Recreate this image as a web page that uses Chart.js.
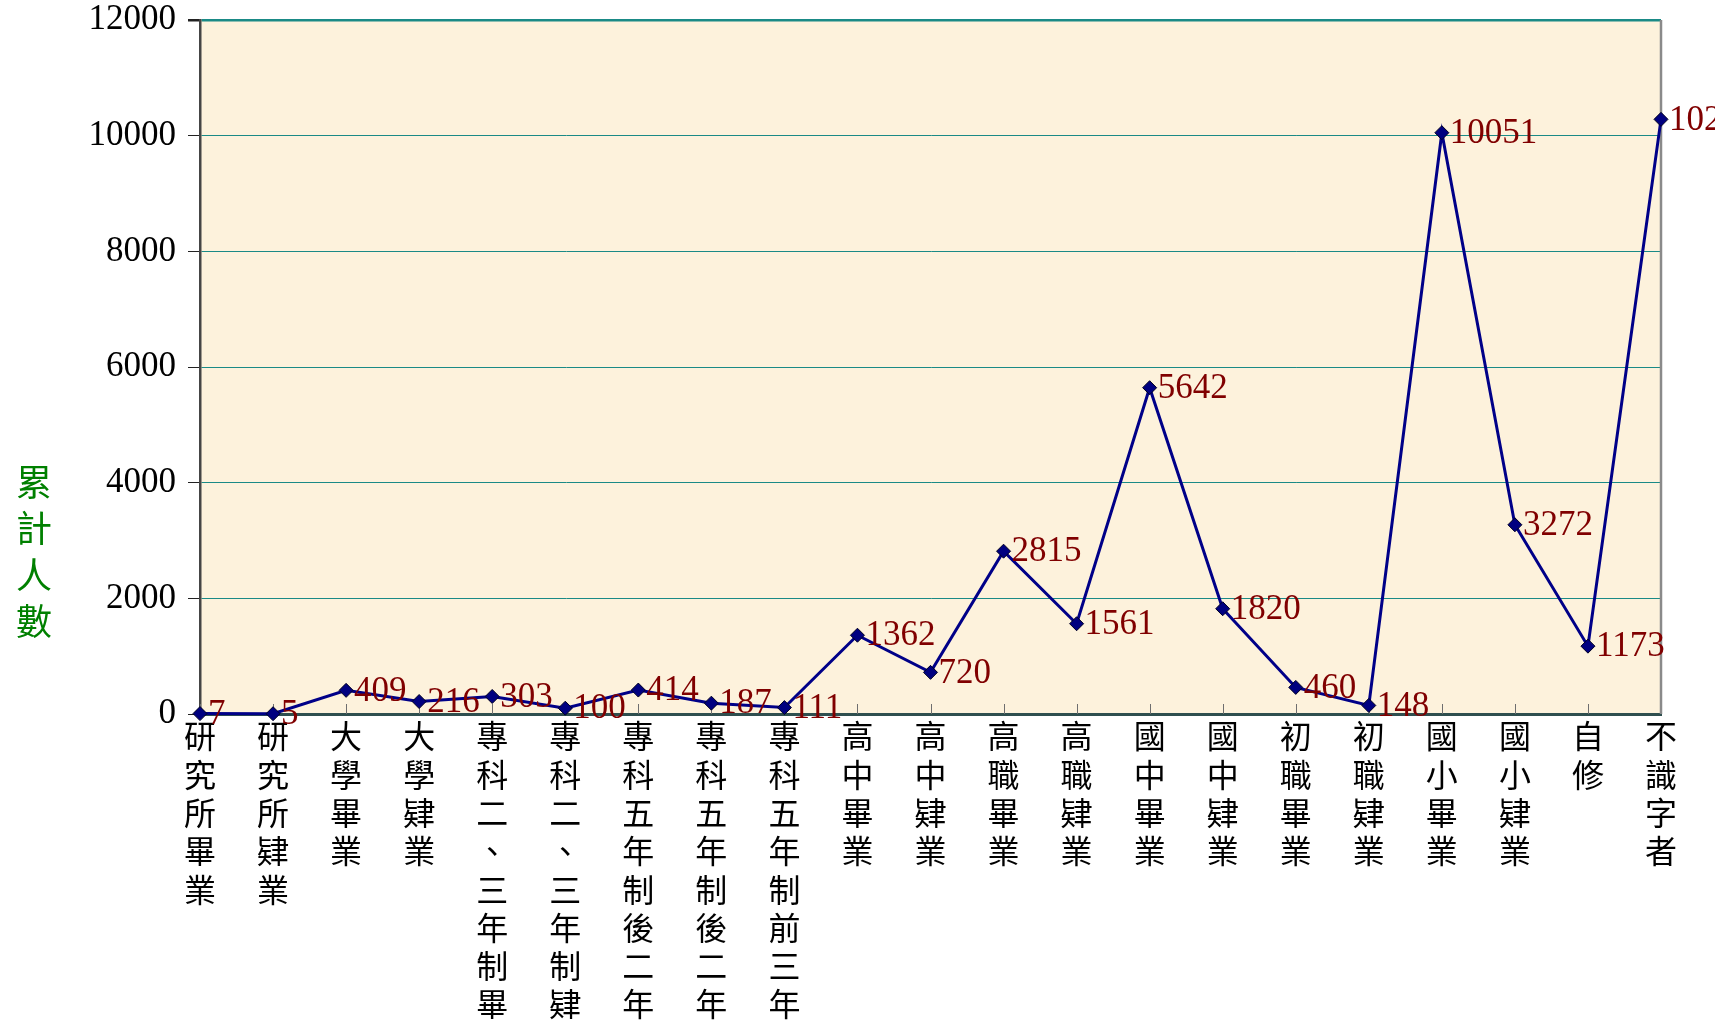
<!DOCTYPE html>
<html>
<head>
<meta charset="utf-8">
<script src="https://cdn.jsdelivr.net/npm/chart.js@4.4.1/dist/chart.umd.min.js"></script>
<style>
  html, body { margin: 0; padding: 0; background: #fff; }
  #wrap { width: 1729px; height: 1026px; position: relative; }
</style>
</head>
<body>
<div id="wrap"><canvas id="c"></canvas></div>
<script>
/* ═══ DATA ═══════════════════════════════════════════ */
const categories = [
  '研究所畢業','研究所肄業','大學畢業','大學肄業',
  '專科二、三年制畢','專科二、三年制肄',
  '專科五年制後二年','專科五年制後二年','專科五年制前三年',
  '高中畢業','高中肄業','高職畢業','高職肄業',
  '國中畢業','國中肄業','初職畢業','初職肄業',
  '國小畢業','國小肄業','自修','不識字者'
];
const counts = [7, 5, 409, 216, 303, 100, 414, 187, 111, 1362, 720,
                2815, 1561, 5642, 1820, 460, 148, 10051, 3272, 1173, 10282];
const yMin = 0, yMax = 12000, yStep = 2000;
const yTitle = '累計人數';

const SERIF = "'Liberation Serif', 'DejaVu Serif', serif";
const CJK = "'Noto Sans CJK TC', 'Noto Sans CJK SC', sans-serif";

/* ═══ PLUGINS ════════════════════════════════════════ */
// plot area fill + right frame + inward x tick marks
const frame = {
  id: 'frame',
  beforeDraw(chart) {
    const {ctx, chartArea: a} = chart;
    ctx.save();
    ctx.fillStyle = '#fdf2dc';
    ctx.fillRect(a.left, a.top, a.right - a.left, a.bottom - a.top);
    ctx.restore();
  },
  beforeDatasetsDraw(chart) {
    const {ctx, chartArea: a, scales: {x}} = chart;
    ctx.save();
    ctx.strokeStyle = '#6e6e6e';
    ctx.lineWidth = 1;
    categories.forEach((c, i) => {
      const px = Math.round(x.getPixelForValue(i)) + 0.5;
      ctx.beginPath(); ctx.moveTo(px, a.bottom - 10); ctx.lineTo(px, a.bottom); ctx.stroke();
    });
    ctx.strokeStyle = '#8a8a8a';
    ctx.lineWidth = 2.5;
    ctx.beginPath(); ctx.moveTo(a.right, a.top); ctx.lineTo(a.right, a.bottom); ctx.stroke();
    ctx.restore();
  }
};

// value labels right of each point (the picture is cut off at ~1715px)
const valueLabels = {
  id: 'valueLabels',
  afterDatasetsDraw(chart) {
    const {ctx} = chart;
    const meta = chart.getDatasetMeta(0);
    ctx.save();
    ctx.beginPath(); ctx.rect(0, 0, 1715, chart.height); ctx.clip();
    ctx.font = '35px ' + SERIF;
    ctx.fillStyle = '#800000';
    ctx.textAlign = 'left';
    ctx.textBaseline = 'middle';
    meta.data.forEach((pt, i) => ctx.fillText(String(counts[i]), pt.x + 8, pt.y + 1));
    ctx.restore();
  }
};

// vertical (stacked) y title
const stackTitle = {
  id: 'stackTitle',
  afterDraw(chart) {
    const {ctx} = chart;
    ctx.save();
    ctx.font = '36px ' + CJK;
    ctx.fillStyle = '#008000';
    ctx.textAlign = 'center';
    ctx.textBaseline = 'middle';
    [...yTitle].forEach((ch, i) => ctx.fillText(ch, 34, 482 + i * 46.5));
    ctx.restore();
  }
};

/* ═══ CHART ══════════════════════════════════════════ */
new Chart(document.getElementById('c'), {
  type: 'line',
  data: {
    labels: categories.map(s => [...s]),
    datasets: [{
      data: counts,
      borderColor: '#000088',
      borderWidth: 3,
      tension: 0,
      pointStyle: 'rectRot',
      pointRadius: 7,
      pointBackgroundColor: '#000080',
      pointBorderColor: '#000022',
      pointBorderWidth: 1,
      clip: false
    }]
  },
  options: {
    responsive: true,
    maintainAspectRatio: false,
    animation: false,
    events: [],
    layout: { padding: { top: 20, right: 68, left: 0, bottom: 0 } },
    plugins: { legend: { display: false }, tooltip: { enabled: false } },
    scales: {
      x: {
        offset: false,
        grid: { display: false, drawTicks: false },
        border: { display: true, color: '#2f4f4f', width: 3 },
        ticks: {
          autoSkip: false, maxRotation: 0, minRotation: 0, padding: 3,
          color: '#000',
          font: { family: CJK, size: 32, lineHeight: 38.3 / 32 }
        },
        afterFit: s => { s.height = 312; s.paddingLeft = 0; s.paddingRight = 0; }
      },
      y: {
        min: yMin, max: yMax,
        grid: {
          color: '#1a8a86',
          lineWidth: c => (c.tick && c.tick.value === yMax ? 2.5 : 1),
          tickColor: '#222',
          tickLength: 12
        },
        border: { display: true, color: '#454545', width: 2.5 },
        ticks: {
          stepSize: yStep, padding: 12, color: '#000',
          font: { family: SERIF, size: 35 },
          callback: v => String(v)
        },
        afterFit: s => { s.width = 200; s.paddingTop = 0; s.paddingBottom = 0; }
      }
    }
  },
  plugins: [frame, valueLabels, stackTitle]
});
</script>
</body>
</html>
